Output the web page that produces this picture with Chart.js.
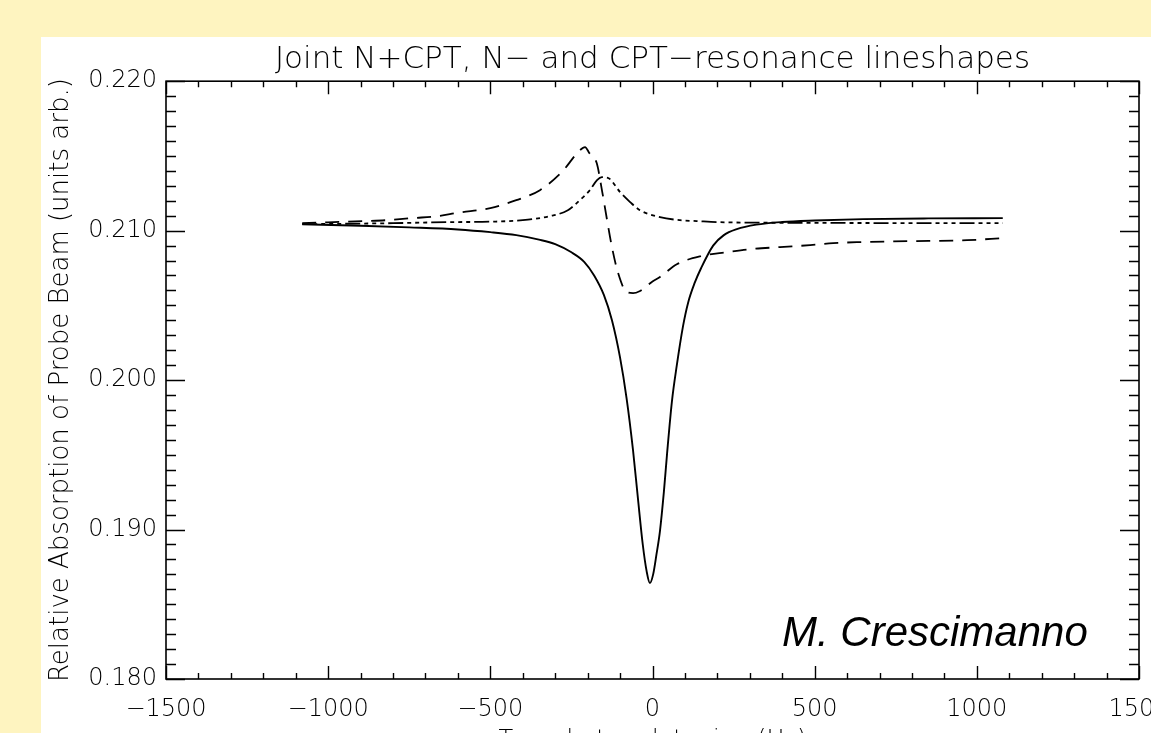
<!DOCTYPE html>
<html>
<head>
<meta charset="utf-8">
<script src="https://cdn.jsdelivr.net/npm/chart.js@4.4.1/dist/chart.umd.min.js"></script>
<style>
  html, body { margin: 0; padding: 0; background: #FEF4C0; }
  canvas { display: block; }
</style>
</head>
<body>
<canvas id="c" width="1151" height="733"></canvas>
<script>
// ---- data ----
const chartTitle = 'Joint N+CPT, N\u2212 and CPT\u2212resonance lineshapes';
const yAxisTitle = 'Relative Absorption of Probe Beam (units arb.)';
const xAxisTitle = 'Two photon detuning (Hz)';
const annotationText = 'M. Crescimanno';

const xTickValues = [-1500, -1000, -500, 0, 500, 1000, 1500];
const yTickValues = [0.180, 0.190, 0.200, 0.210, 0.220];

// solid: joint N+CPT lineshape
const solidX = [-1080, -900, -750, -600, -500, -420, -350, -300, -250, -210, -180, -150, -125, -100, -80, -60, -45, -30, -18, -8, 2, 12, 23, 35, 45, 60, 75, 94, 110, 130, 150, 187, 220, 260, 320, 400, 500, 650, 850, 1080];
const solidY = [0.21043, 0.21033, 0.21022, 0.21008, 0.20990, 0.20970, 0.20940, 0.20910, 0.20855, 0.20790, 0.20700, 0.20570, 0.20400, 0.20150, 0.19880, 0.19530, 0.19210, 0.18900, 0.18720, 0.18642, 0.18700, 0.18830, 0.18990, 0.19250, 0.19510, 0.19860, 0.20100, 0.20360, 0.20520, 0.20650, 0.20750, 0.20900, 0.20970, 0.21010, 0.21040, 0.21058, 0.21068, 0.21077, 0.21082, 0.21084];

// dashed: N-resonance lineshape
const dashX = [-1080, -890, -820, -740, -660, -600, -500, -420, -347, -280, -224, -208, -195, -172, -155, -140, -125, -106, -80, -60, -40, 0, 23, 75, 150, 230, 300, 393, 486, 557, 630, 800, 970, 1080];
const dashY = [0.21050, 0.21064, 0.21070, 0.21084, 0.21097, 0.21120, 0.21151, 0.21204, 0.21271, 0.21391, 0.21538, 0.21559, 0.21520, 0.21452, 0.21260, 0.21070, 0.20890, 0.20716, 0.20590, 0.20582, 0.20595, 0.20660, 0.20690, 0.20775, 0.20830, 0.20856, 0.20876, 0.20890, 0.20903, 0.20916, 0.20923, 0.20930, 0.20936, 0.20950];

// dash-dot-dot-dot: CPT-resonance lineshape
const cptX = [-1080, -800, -630, -500, -400, -316, -261, -224, -193, -171, -156, -140, -131, -100, -69, -39, 23, 85, 137, 200, 500, 1080];
const cptY = [0.21043, 0.21050, 0.21057, 0.21060, 0.21070, 0.21097, 0.21137, 0.21204, 0.21271, 0.21338, 0.21358, 0.21355, 0.21345, 0.21258, 0.21191, 0.21137, 0.21090, 0.21070, 0.21064, 0.21057, 0.21052, 0.21050];

function pts(xs, ys) { return xs.map((x, i) => ({ x: x, y: ys[i] })); }

const FONT = '"DejaVu Sans", "Liberation Sans", sans-serif';

const bgPlugin = {
  id: 'bg',
  beforeDraw(chart) {
    const ctx = chart.ctx;
    ctx.save();
    ctx.fillStyle = '#FEF4C0';
    ctx.fillRect(0, 0, chart.width, chart.height);
    ctx.fillStyle = '#FFFFFF';
    ctx.fillRect(41, 37, chart.width - 41, chart.height - 37);
    ctx.restore();
  }
};

const framePlugin = {
  id: 'frame',
  afterDraw(chart) {
    const ctx = chart.ctx;
    const a = chart.chartArea;
    const xs = chart.scales.x, ys = chart.scales.y;
    ctx.save();
    ctx.strokeStyle = '#000';
    ctx.lineWidth = 1.6;
    ctx.strokeRect(a.left, a.top, a.right - a.left, a.bottom - a.top);
    ctx.lineWidth = 1.4;
    ctx.beginPath();
    for (let v = -1500; v <= 1500; v += 100) {
      const px = Math.round(xs.getPixelForValue(v)) + 0.5;
      const len = (v % 500 === 0) ? 13 : 6;
      ctx.moveTo(px, a.bottom); ctx.lineTo(px, a.bottom - len);
      ctx.moveTo(px, a.top); ctx.lineTo(px, a.top + len);
    }
    for (let k = 0; k <= 40; k++) {
      const v = 0.180 + k * 0.001;
      const py = Math.round(ys.getPixelForValue(v)) + 0.5;
      const len = (k % 10 === 0) ? 19 : 10;
      ctx.moveTo(a.left, py); ctx.lineTo(a.left + len, py);
      ctx.moveTo(a.right, py); ctx.lineTo(a.right - len, py);
    }
    ctx.stroke();
    // annotation
    ctx.fillStyle = '#000';
    ctx.font = 'italic 42px "Liberation Sans", Arial, sans-serif';
    ctx.textAlign = 'left';
    ctx.textBaseline = 'alphabetic';
    ctx.fillText(annotationText, 782, 646);
    ctx.restore();
  }
};

new Chart(document.getElementById('c'), {
  type: 'line',
  data: {
    datasets: [
      { label: 'N+CPT', data: pts(solidX, solidY), borderColor: '#000', borderWidth: 1.9, pointRadius: 0, cubicInterpolationMode: 'monotone', fill: false },
      { label: 'N', data: pts(dashX, dashY), borderColor: '#000', borderWidth: 1.8, borderDash: [14, 9], pointRadius: 0, cubicInterpolationMode: 'monotone', fill: false },
      { label: 'CPT', data: pts(cptX, cptY), borderColor: '#000', borderWidth: 1.8, borderDash: [15, 4, 4, 4, 4, 4, 4, 4], pointRadius: 0, cubicInterpolationMode: 'monotone', fill: false }
    ]
  },
  options: {
    responsive: false,
    animation: false,
    devicePixelRatio: 1,
    layout: { padding: { left: 0, right: 12, top: 0, bottom: 0 } },
    plugins: {
      legend: { display: false },
      tooltip: { enabled: false },
      title: {
        display: true,
        fullSize: false,
        text: chartTitle,
        color: '#000',
        font: { family: FONT, size: 31, weight: '200' },
        padding: { top: 41, bottom: 3 }
      }
    },
    scales: {
      x: {
        type: 'linear',
        min: -1500, max: 1500,
        afterBuildTicks(scale) { scale.ticks = xTickValues.map(v => ({ value: v })); },
        afterFit(scale) { scale.height = 54; scale.paddingLeft = 0; scale.paddingRight = 0; },
        grid: { display: false, drawTicks: false },
        border: { display: false },
        ticks: {
          color: '#000',
          padding: 16,
          maxRotation: 0,
          autoSkip: false,
          font: { family: FONT, size: 24, weight: '200' },
          callback: v => String(v).replace('-', '\u2212')
        },
        title: {
          display: true,
          text: xAxisTitle,
          color: '#000',
          font: { family: FONT, size: 24, weight: '200' },
          padding: { top: 0, bottom: -22 }
        }
      },
      y: {
        type: 'linear',
        min: 0.180, max: 0.220,
        afterBuildTicks(scale) { scale.ticks = yTickValues.map(v => ({ value: v })); },
        afterFit(scale) { scale.width = 166; scale.paddingTop = 0; scale.paddingBottom = 0; },
        grid: { display: false, drawTicks: false },
        border: { display: false },
        ticks: {
          color: '#000',
          padding: 9,
          autoSkip: false,
          font: { family: FONT, size: 24, weight: '200' },
          callback: v => Number(v).toFixed(3)
        },
        title: {
          display: true,
          text: yAxisTitle,
          color: '#000',
          font: { family: FONT, size: 26, weight: '200' },
          padding: { top: 46, bottom: 0 }
        }
      }
    }
  },
  plugins: [bgPlugin, framePlugin]
});
</script>
</body>
</html>
